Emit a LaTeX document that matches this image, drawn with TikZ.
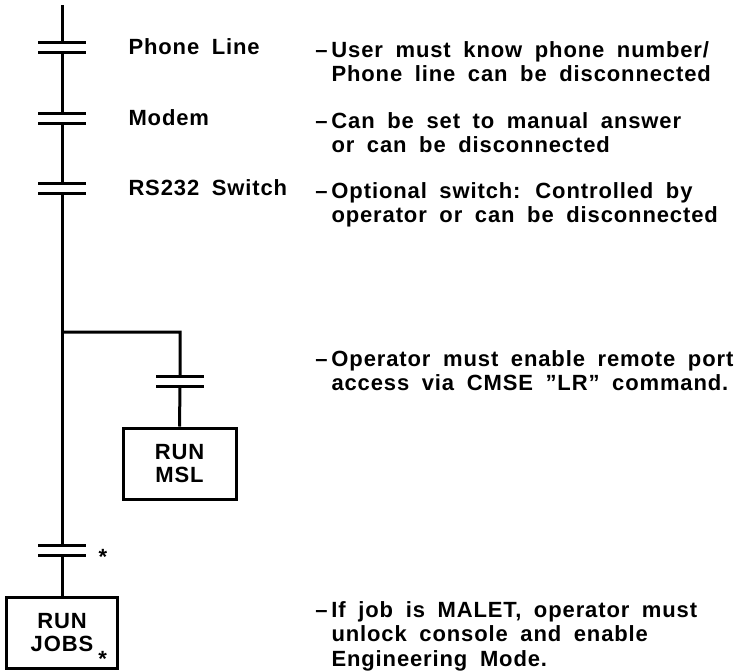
\documentclass[tikz,border=0pt]{standalone}
\usepackage{fontspec}
\setmainfont{Liberation Sans}[LetterSpace=4,WordSpace=1.8]

\begin{document}
\begin{tikzpicture}[x=1pt,y=-1pt,line width=3pt,
    font=\fontsize{22}{24.5}\selectfont\bfseries,
    contact/.style={minimum width=48pt,minimum height=10pt,inner sep=0pt,outer sep=0pt},
    box/.style={draw,align=center,inner sep=0pt,font=\fontsize{22}{23}\selectfont\bfseries},
    lbl/.style={anchor=west,inner sep=0pt},
    note/.style={anchor=north west,align=left,inner sep=0pt}]
  \useasboundingbox (0,0) rectangle (735,670);

  % contacts
  \node[contact] (phone) at (62,47) {};
  \node[contact] (modem) at (62,118) {};
  \node[contact] (rs) at (62,188) {};
  \node[contact] (lr) at (180,381) {};
  \node[contact] (eng) at (62,550) {};
  \foreach \k in {phone,modem,rs,lr,eng}
    \draw (\k.north west) -- (\k.north east) (\k.south west) -- (\k.south east);

  % boxes
  \node[box,minimum width=113pt,minimum height=71pt] (msl) at (179.5,463.5) {RUN\\MSL};
  \node[box,minimum width=111pt,minimum height=71pt] (jobs) at (62,632.5)
    {RUN\\JOBS\rlap{\hspace{5pt}\smash{\raisebox{-15pt}{*}}}};

  % wiring
  \coordinate (top) at (62,5);
  \coordinate (tap) at (62,332);
  \draw (top) -- (phone.north) (phone.south) -- (modem.north)
        (modem.south) -- (rs.north) (rs.south) -- (eng.north)
        (eng.south) -- (jobs.north);
  \draw (tap) -| (lr.north) (lr.south) -- (msl.north);
  \node[anchor=base,inner sep=0pt] (engstar) at (103,564) {*};

  % labels
  \node[lbl] (lphone) at (127,47) {Phone Line};
  \node[lbl] (lmodem) at (127,118) {Modem};
  \node[lbl] (lrs) at (127,188) {RS232 Switch};

  % notes
  \node[note] (nphone) at (330,40) {\llap{--\hspace{4pt}}User must know phone number/\\Phone line can be disconnected};
  \node[note] (nmodem) at (330,111) {\llap{--\hspace{4pt}}Can be set to manual answer\\or can be disconnected};
  \node[note] (nrs) at (330,181) {\llap{--\hspace{4pt}}Optional switch: Controlled by\\operator or can be disconnected};
  \node[note] (nlr) at (330,349) {\llap{--\hspace{4pt}}Operator must enable remote port\\access via CMSE \symbol{"22}LR\symbol{"22} command.};
  \node[note] (njobs) at (330,600) {\llap{--\hspace{4pt}}If job is MALET, operator must\\unlock console and enable\\Engineering Mode.};
\end{tikzpicture}
\end{document}
